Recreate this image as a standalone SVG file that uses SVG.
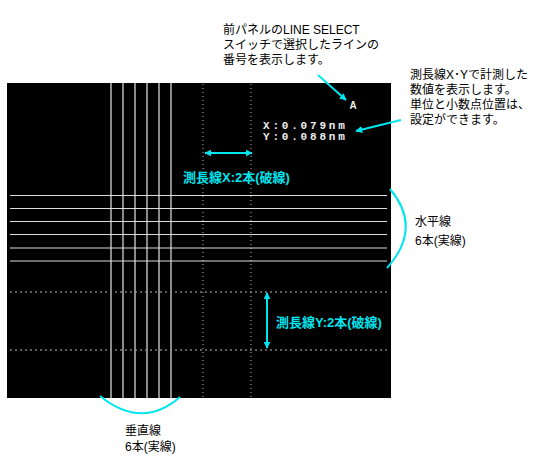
<svg xmlns="http://www.w3.org/2000/svg" width="550" height="460" viewBox="0 0 550 460">
<defs>
<marker id="ah" viewBox="0 0 10 10" refX="9" refY="5" markerWidth="7" markerHeight="7" orient="auto-start-reverse" markerUnits="userSpaceOnUse">
<path d="M0,0 L10,5 L0,10 z" fill="#00e5ee"/>
</marker>
<style>
.jp{font-family:"Liberation Sans","Noto Sans CJK JP",sans-serif;font-size:12px;fill:#000}
.cy{font-family:"Liberation Sans","Noto Sans CJK JP",sans-serif;font-size:13px;font-weight:bold;fill:#00e5ee}
.ro{font-family:"Liberation Mono","DejaVu Sans Mono",monospace;font-size:11px;font-weight:bold;fill:#eee;letter-spacing:2.8px}
.vl{stroke:#9a9a9a;stroke-width:1.8}
.hl{stroke:#dcdcdc;stroke-width:1.2}
.dv{stroke:#999;stroke-width:1.2;stroke-dasharray:1 3}
.dh{stroke:#bbb;stroke-width:1;stroke-dasharray:2 3}
.ar{stroke:#00e5ee;stroke-width:2;fill:none}
.br{stroke:#00e5ee;stroke-width:2;fill:none}
</style>
</defs>
<rect width="550" height="460" fill="#fff"/>
<g id="screen">
<rect x="7" y="83" width="384" height="315" fill="#000"/>
<line class="dv" x1="203" y1="84" x2="203" y2="398"/>
<line class="dv" x1="251" y1="84" x2="251" y2="398"/>
<line class="dh" x1="10" y1="292" x2="388" y2="292"/>
<line class="dh" x1="10" y1="350" x2="388" y2="350"/>
<line class="vl" x1="111" y1="83" x2="111" y2="398"/>
<line class="vl" x1="123" y1="83" x2="123" y2="398"/>
<line class="vl" x1="135" y1="83" x2="135" y2="398"/>
<line class="vl" x1="147" y1="83" x2="147" y2="398"/>
<line class="vl" x1="159" y1="83" x2="159" y2="398"/>
<line class="vl" x1="171" y1="83" x2="171" y2="398"/>
<line class="hl" x1="10" y1="195.5" x2="387" y2="195.5"/>
<line class="hl" x1="10" y1="208.5" x2="387" y2="208.5"/>
<line class="hl" x1="10" y1="221.5" x2="387" y2="221.5"/>
<line class="hl" x1="10" y1="234.5" x2="387" y2="234.5"/>
<line class="hl" x1="10" y1="248" x2="387" y2="248"/>
<line class="hl" x1="10" y1="261" x2="387" y2="261"/>
<text x="353" y="109" font-family="Liberation Sans,sans-serif" font-size="10" font-weight="bold" fill="#eee" text-anchor="middle">A</text>
<text class="ro" x="263" y="129">X:0.079nm</text>
<text class="ro" x="263" y="140">Y:0.088nm</text>
</g>
<g id="connectors">
<line class="ar" x1="318" y1="75" x2="346" y2="100" marker-end="url(#ah)"/>
<line class="ar" x1="401" y1="120" x2="356" y2="131" marker-end="url(#ah)"/>
<line class="ar" x1="205" y1="153" x2="252" y2="153" marker-start="url(#ah)" marker-end="url(#ah)"/>
<line class="ar" x1="267" y1="293" x2="267" y2="348" marker-start="url(#ah)" marker-end="url(#ah)"/>
<path class="br" d="M390,189 Q423,228 387,268"/>
<path class="br" d="M100,396 Q142,430 180,397"/>
</g>
<g id="label-select">
<text class="jp" x="223" y="34">前パネルのLINE SELECT</text>
<text class="jp" x="223" y="49">スイッチで選択したラインの</text>
<text class="jp" x="223" y="64">番号を表示します。</text>
</g>
<g id="label-readout">
<text class="jp" x="410" y="79">測長線X･Yで計測した</text>
<text class="jp" x="410" y="94">数値を表示します。</text>
<text class="jp" x="410" y="109">単位と小数点位置は、</text>
<text class="jp" x="410" y="124">設定ができます。</text>
</g>
<g id="label-x">
<text class="cy" x="183" y="182">測長線X:2本(破線)</text>
</g>
<g id="label-y">
<text class="cy" x="276" y="327">測長線Y:2本(破線)</text>
</g>
<g id="label-h">
<text class="jp" x="415" y="226">水平線</text>
<text class="jp" x="415" y="245">6本(実線)</text>
</g>
<g id="label-v">
<text class="jp" x="125" y="435">垂直線</text>
<text class="jp" x="125" y="451">6本(実線)</text>
</g>
</svg>
